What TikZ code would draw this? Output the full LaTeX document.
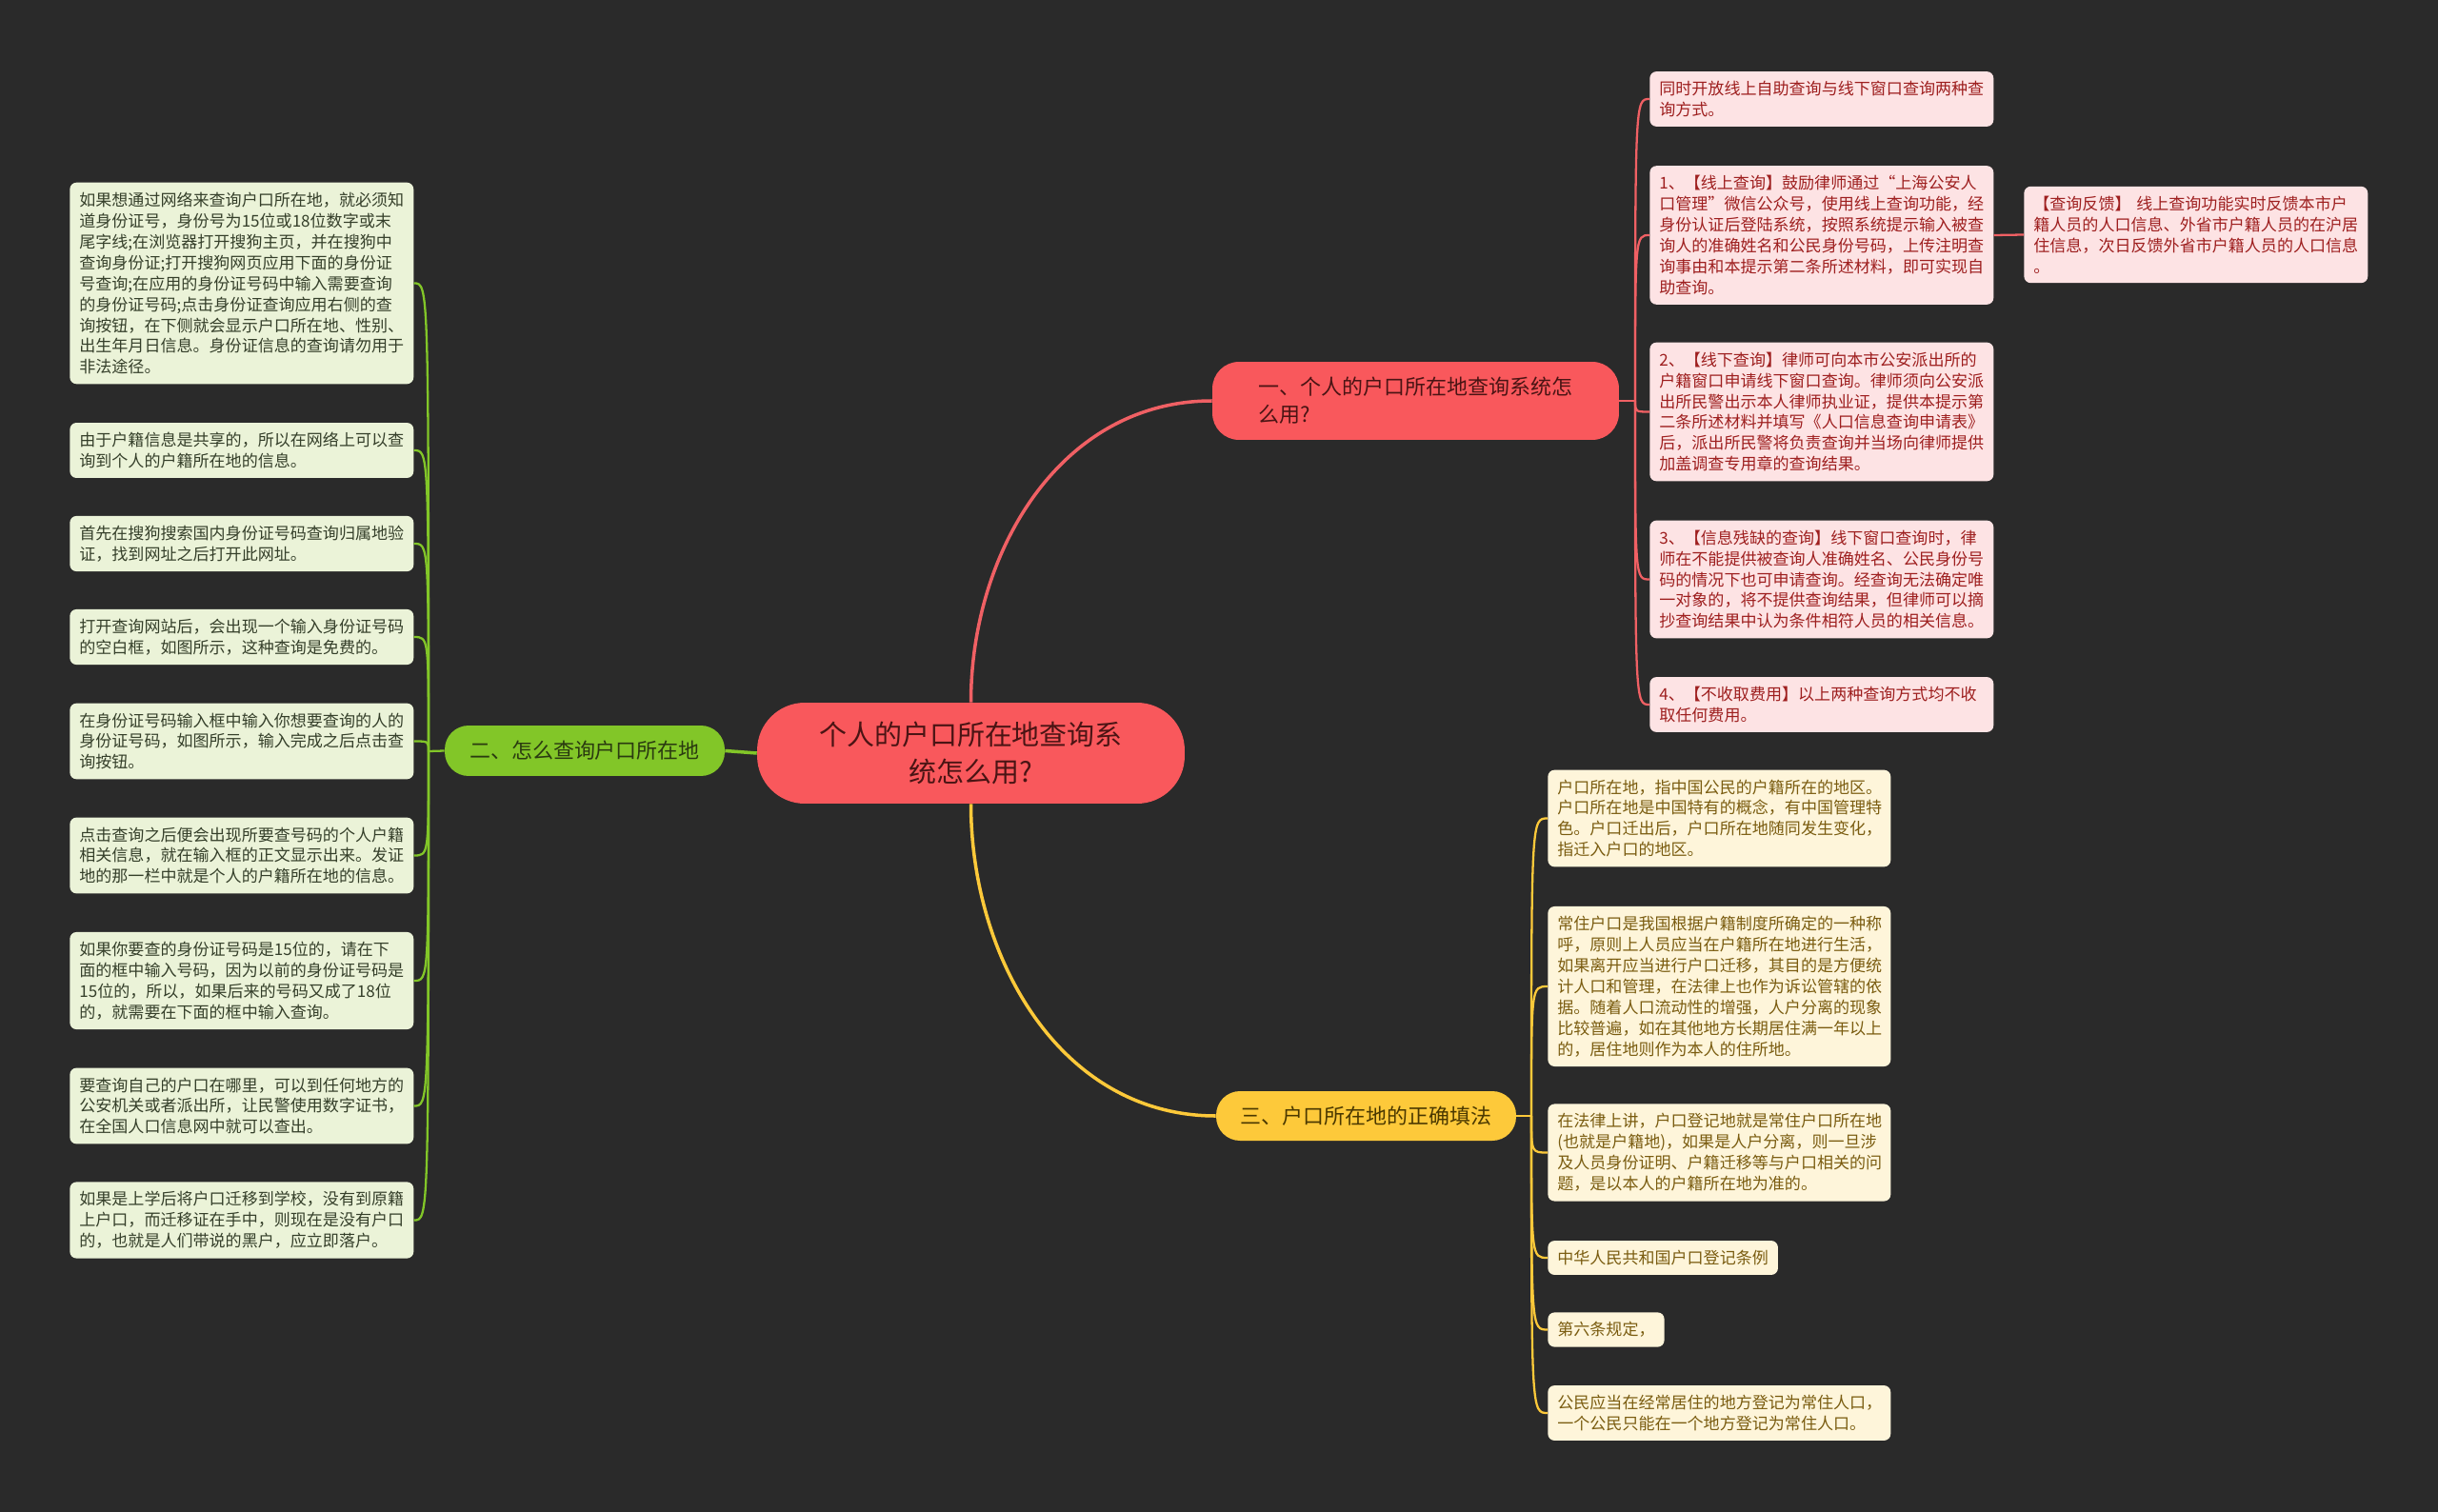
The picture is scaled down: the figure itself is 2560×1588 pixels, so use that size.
\documentclass[tikz,border=0pt]{standalone}
\usepackage{fontspec}
\setmainfont{Noto Sans CJK SC}
\definecolor{bgdark}{HTML}{2A2A2A}
\definecolor{rootred}{HTML}{F9585C}
\definecolor{roottext}{HTML}{4A1414}
\definecolor{gmain}{HTML}{82C628}
\definecolor{gtext}{HTML}{2A3A10}
\definecolor{ymain}{HTML}{FDC93A}
\definecolor{ytext}{HTML}{4A3800}
\definecolor{rline}{HTML}{F06064}
\definecolor{gleaffill}{HTML}{EBF3D8}
\definecolor{gleaftext}{HTML}{353F2A}
\definecolor{rleaffill}{HTML}{FDE3E4}
\definecolor{rleaftext}{HTML}{9E1F1F}
\definecolor{yleaffill}{HTML}{FEF5DA}
\definecolor{yleaftext}{HTML}{7A5C10}

\begin{document}
\begin{tikzpicture}[x=0.02cm,y=-0.02cm,
  leaf/.style={rounded corners=0.14cm,inner xsep=0.2cm,inner ysep=0.2cm,anchor=west,align=left,
    font=\fontsize{9.7pt}{12.5pt}\selectfont},
  gleaf/.style={leaf,fill=gleaffill,text=gleaftext,text width=6.82cm},
  rleaf/.style={leaf,fill=rleaffill,text=rleaftext,text width=6.82cm},
  yleaf/.style={leaf,fill=yleaffill,text=yleaftext},
  yleafw/.style={yleaf,text width=6.8cm},
  branch/.style={font=\fontsize{12.5pt}{16.5pt}\selectfont,align=left,inner sep=0pt},
  gcon/.style={draw=gmain,line width=1.3pt},
  rcon/.style={draw=rline,line width=1.3pt},
  ycon/.style={draw=ymain,line width=1.3pt},
  maincon/.style={line width=2pt}]
  \fill[bgdark] (0,0) rectangle (2560,1588);
  \useasboundingbox (0,0) rectangle (2560,1588);

  \node[fill=rootred,text=roottext,rounded corners=1cm,minimum width=8.98cm,minimum height=2.12cm,
    align=center,inner sep=0pt,font=\fontsize{16.5pt}{22pt}\selectfont] (root) at (1019.5,791)
    {个人的户口所在地查询系\\统怎么用?};
  \node[branch,fill=rootred,text=roottext,rounded corners=0.56cm,minimum width=8.54cm,minimum height=1.64cm]
    (b1) at (1486.5,421) {一、个人的户口所在地查询系统怎\\么用?};
  \node[branch,fill=gmain,text=gtext,rounded corners=0.5cm,minimum width=5.88cm,minimum height=1.06cm]
    (b2) at (614,788.5) {二、怎么查询户口所在地};
  \node[branch,fill=ymain,text=ytext,rounded corners=0.5cm,minimum width=6.3cm,minimum height=1.04cm]
    (b3) at (1434.5,1172) {三、户口所在地的正确填法};

  \node[gleaf] (g1) at (73,297.5) {如果想通过网络来查询户口所在地，就必须知\\道身份证号，身份号为15位或18位数字或末\\尾字线;在浏览器打开搜狗主页，并在搜狗中\\查询身份证;打开搜狗网页应用下面的身份证\\号查询;在应用的身份证号码中输入需要查询\\的身份证号码;点击身份证查询应用右侧的查\\询按钮，在下侧就会显示户口所在地、性别、\\出生年月日信息。身份证信息的查询请勿用于\\非法途径。};
  \node[gleaf] (g2) at (73,473) {由于户籍信息是共享的，所以在网络上可以查\\询到个人的户籍所在地的信息。};
  \node[gleaf] (g3) at (73,571) {首先在搜狗搜索国内身份证号码查询归属地验\\证，找到网址之后打开此网址。};
  \node[gleaf] (g4) at (73,669) {打开查询网站后，会出现一个输入身份证号码\\的空白框，如图所示，这种查询是免费的。};
  \node[gleaf] (g5) at (73,778.5) {在身份证号码输入框中输入你想要查询的人的\\身份证号码，如图所示，输入完成之后点击查\\询按钮。};
  \node[gleaf] (g6) at (73,898.5) {点击查询之后便会出现所要查号码的个人户籍\\相关信息，就在输入框的正文显示出来。发证\\地的那一栏中就是个人的户籍所在地的信息。};
  \node[gleaf] (g7) at (73,1030) {如果你要查的身份证号码是15位的，请在下\\面的框中输入号码，因为以前的身份证号码是\\15位的，所以，如果后来的号码又成了18位\\的，就需要在下面的框中输入查询。};
  \node[gleaf] (g8) at (73,1161.5) {要查询自己的户口在哪里，可以到任何地方的\\公安机关或者派出所，让民警使用数字证书，\\在全国人口信息网中就可以查出。};
  \node[gleaf] (g9) at (73,1281.5) {如果是上学后将户口迁移到学校，没有到原籍\\上户口，而迁移证在手中，则现在是没有户口\\的，也就是人们带说的黑户，应立即落户。};

  \node[rleaf] (r1) at (1732,104) {同时开放线上自助查询与线下窗口查询两种查\\询方式。};
  \node[rleaf] (r2) at (1732,247) {1、【线上查询】鼓励律师通过“上海公安人\\口管理”微信公众号，使用线上查询功能，经\\身份认证后登陆系统，按照系统提示输入被查\\询人的准确姓名和公民身份号码，上传注明查\\询事由和本提示第二条所述材料，即可实现自\\助查询。};
  \node[rleaf] (r3) at (1732,432.5) {2、【线下查询】律师可向本市公安派出所的\\户籍窗口申请线下窗口查询。律师须向公安派\\出所民警出示本人律师执业证，提供本提示第\\二条所述材料并填写《人口信息查询申请表》\\后，派出所民警将负责查询并当场向律师提供\\加盖调查专用章的查询结果。};
  \node[rleaf] (r4) at (1732,608.5) {3、【信息残缺的查询】线下窗口查询时，律\\师在不能提供被查询人准确姓名、公民身份号\\码的情况下也可申请查询。经查询无法确定唯\\一对象的，将不提供查询结果，但律师可以摘\\抄查询结果中认为条件相符人员的相关信息。};
  \node[rleaf] (r5) at (1732,740) {4、【不收取费用】以上两种查询方式均不收\\取任何费用。};
  \node[rleaf] (r6) at (2125,246.5) {【查询反馈】 线上查询功能实时反馈本市户\\籍人员的人口信息、外省市户籍人员的在沪居\\住信息，次日反馈外省市户籍人员的人口信息\\。};

  \node[yleafw] (y1) at (1625,859.5) {户口所在地，指中国公民的户籍所在的地区。\\户口所在地是中国特有的概念，有中国管理特\\色。户口迁出后，户口所在地随同发生变化，\\指迁入户口的地区。};
  \node[yleafw] (y2) at (1625,1036) {常住户口是我国根据户籍制度所确定的一种称\\呼，原则上人员应当在户籍所在地进行生活，\\如果离开应当进行户口迁移，其目的是方便统\\计人口和管理，在法律上也作为诉讼管辖的依\\据。随着人口流动性的增强，人户分离的现象\\比较普遍，如在其他地方长期居住满一年以上\\的，居住地则作为本人的住所地。};
  \node[yleafw] (y3) at (1625,1210.5) {在法律上讲，户口登记地就是常住户口所在地\\(也就是户籍地)，如果是人户分离，则一旦涉\\及人员身份证明、户籍迁移等与户口相关的问\\题，是以本人的户籍所在地为准的。};
  \node[yleaf] (y4) at (1625,1321) {中华人民共和国户口登记条例};
  \node[yleaf] (y5) at (1625,1396.5) {第六条规定，};
  \node[yleafw] (y6) at (1625,1484) {公民应当在经常居住的地方登记为常住人口，\\一个公民只能在一个地方登记为常住人口。};

  \draw[maincon,rline] (root.north) to[out=90,in=180] (b1.west);
  \draw[maincon,ymain] (root.south) to[out=-90,in=180] (b3.west);
  \draw[maincon,gmain] (root.west) -- (b2.east);

  \coordinate (gj) at (450,789);
  \coordinate (rj) at (1717,421);
  \coordinate (yj) at (1608,1172);
  \draw[gcon] (b2.west) -- (gj);
  \draw[rcon] (b1.east) -- (rj);
  \draw[ycon] (b3.east) -- (yj);
  \foreach \n in {g1,g2,g3,g4,g5,g6,g7,g8,g9}
    \draw[gcon] (gj) .. controls (gj |- \n.east) .. (\n.east);
  \foreach \n in {r1,r2,r3,r4,r5}
    \draw[rcon] (rj) .. controls (rj |- \n.west) .. (\n.west);
  \foreach \n in {y1,y2,y3,y4,y5,y6}
    \draw[ycon] (yj) .. controls (yj |- \n.west) .. (\n.west);
  \draw[rcon] (r2.east) -- (r6.west);
\end{tikzpicture}
\end{document}
